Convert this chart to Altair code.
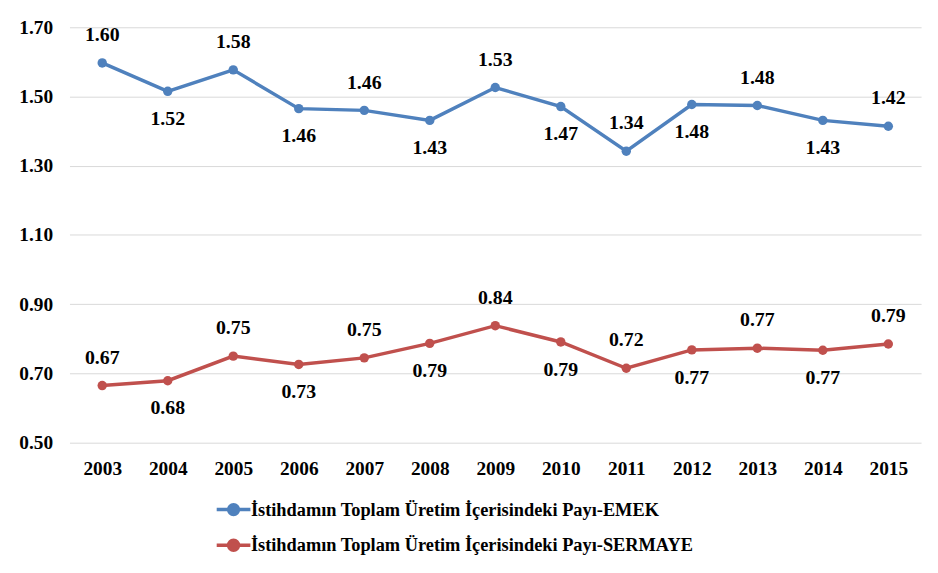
import altair as alt
import pandas as pd

years = ["2003", "2004", "2005", "2006", "2007", "2008", "2009",
         "2010", "2011", "2012", "2013", "2014", "2015"]
emek_values = [1.597, 1.515, 1.577, 1.465, 1.460, 1.431, 1.526,
               1.471, 1.342, 1.477, 1.474, 1.431, 1.414]
emek_labels = ["1.60", "1.52", "1.58", "1.46", "1.46", "1.43", "1.53",
               "1.47", "1.34", "1.48", "1.48", "1.43", "1.42"]
sermaye_values = [0.665, 0.679, 0.750, 0.726, 0.745, 0.787, 0.838,
                  0.791, 0.715, 0.768, 0.773, 0.767, 0.785]
sermaye_labels = ["0.67", "0.68", "0.75", "0.73", "0.75", "0.79", "0.84",
                  "0.79", "0.72", "0.77", "0.77", "0.77", "0.79"]
label_side = ["above", "below"] * 6 + ["above"]
series_names = ["İstihdamın Toplam Üretim İçerisindeki Payı-EMEK",
                "İstihdamın Toplam Üretim İçerisindeki Payı-SERMAYE"]
series_colors = ["#4F81BD", "#C0504D"]
y_ticks = [0.5, 0.7, 0.9, 1.1, 1.3, 1.5, 1.7]

rows = []
for name, vals, labs in [(series_names[0], emek_values, emek_labels),
                         (series_names[1], sermaye_values, sermaye_labels)]:
    for yr, v, lab, side in zip(years, vals, labs, label_side):
        rows.append({"year": yr, "value": v, "label": lab,
                     "side": side, "series": name})
df = pd.DataFrame(rows)

FONT = "Liberation Serif"
r_sym = 11.33
symbol_path = ("M-1.5,0H1.5M0.44,0A0.44,0.44,0,1,1,-0.44,0"
               "A0.44,0.44,0,1,1,0.44,0Z")

base = alt.Chart(df).encode(
    x=alt.X("year:O", sort=years,
            scale=alt.Scale(type="point", padding=0.5),
            axis=alt.Axis(title=None, labelAngle=0, domain=False,
                          ticks=False, grid=False, labelPadding=17,
                          labelFont=FONT, labelFontWeight="bold",
                          labelFontSize=19.5, labelColor="#000000")),
    y=alt.Y("value:Q",
            scale=alt.Scale(domain=[0.5, 1.7], nice=False, zero=False),
            axis=alt.Axis(title=None, values=y_ticks, format=".2f",
                          domain=False, ticks=False, gridColor="#D9D9D9",
                          gridWidth=1, labelPadding=17,
                          labelFont=FONT, labelFontWeight="bold",
                          labelFontSize=19.5, labelColor="#000000")),
)

color_enc = alt.Color(
    "series:N", sort=series_names,
    scale=alt.Scale(domain=series_names, range=series_colors),
    legend=alt.Legend(title=None, orient="none", legendX=152, legendY=473,
                      direction="vertical", symbolType=symbol_path,
                      symbolSize=(2 * r_sym) ** 2, symbolStrokeWidth=3.5,
                      labelFont=FONT, labelFontWeight="bold",
                      labelFontSize=18.5, labelColor="#000000",
                      labelOffset=4, rowPadding=10, padding=0,
                      labelLimit=800),
)

lines = base.mark_line(strokeWidth=3.5, point=alt.OverlayMarkDef(
    filled=True, size=90)).encode(color=color_enc)

text_above = base.mark_text(dy=-28, font=FONT, fontWeight="bold",
                            fontSize=20, color="#000000").encode(
    text="label:N").transform_filter(alt.datum.side == "above")
text_below = base.mark_text(dy=28, font=FONT, fontWeight="bold",
                            fontSize=20, color="#000000").encode(
    text="label:N").transform_filter(alt.datum.side == "below")

chart = alt.layer(lines, text_above, text_below).properties(
    width=859, height=419,
    autosize=alt.AutoSizeParams(type="none"),
    padding={"left": 62, "top": 17, "right": 9, "bottom": 129},
    background="#FFFFFF",
).configure_view(stroke=None)

chart.save("out.html", embed_options={"renderer": "svg", "actions": False})
